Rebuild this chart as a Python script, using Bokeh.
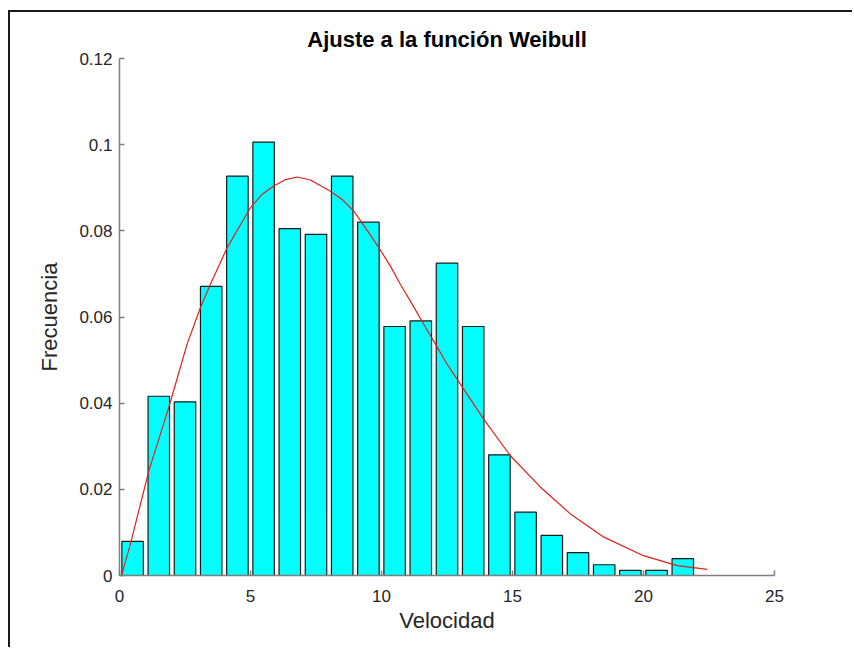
from bokeh.plotting import figure
from bokeh.models import FixedTicker, Range1d, ColumnDataSource
from bokeh.embed import file_html
from bokeh.resources import INLINE

# ---- data ----
velocidad = [0.5, 1.5, 2.5, 3.5, 4.5, 5.5, 6.5, 7.5, 8.5, 9.5, 10.5,
             11.5, 12.5, 13.5, 14.5, 15.5, 16.5, 17.5, 18.5, 19.5, 20.5, 21.5]
frecuencia = [0.0079, 0.0416, 0.0403, 0.0671, 0.0927, 0.1006, 0.0805, 0.0792,
              0.0927, 0.0820, 0.0578, 0.0591, 0.0725, 0.0578, 0.0280, 0.0147,
              0.0093, 0.0053, 0.0025, 0.0012, 0.0012, 0.0039]

weibull_x = [0.1, 0.42, 1.12, 1.88, 2.58, 3.09, 3.47, 4.11, 4.55, 5.0, 5.45,
             5.89, 6.34, 6.78, 7.29, 8.05, 8.5, 8.94, 9.39, 9.9, 10.34, 10.72,
             11.17, 11.61, 12.06, 12.5, 13.1, 13.9, 14.92, 16.07, 17.21, 18.49,
             20.0, 21.29, 22.43]
weibull_y = [0.0005, 0.0074, 0.0243, 0.0390, 0.0537, 0.0622, 0.0676, 0.0761,
             0.0807, 0.0854, 0.0885, 0.0904, 0.0919, 0.0925, 0.0918, 0.0892,
             0.0873, 0.0846, 0.0807, 0.0761, 0.0718, 0.0676, 0.0630, 0.0583,
             0.0537, 0.0491, 0.0436, 0.0363, 0.0278, 0.0205, 0.0143, 0.0089,
             0.0046, 0.0023, 0.0014]

x_ticks = [0, 5, 10, 15, 20, 25]
y_ticks = [0, 0.02, 0.04, 0.06, 0.08, 0.1, 0.12]
y_tick_labels = ["0", "0.02", "0.04", "0.06", "0.08", "0.1", "0.12"]

titulo = "Ajuste a la función Weibull"
etiqueta_x = "Velocidad"
etiqueta_y = "Frecuencia"

FONT = "Liberation Sans"

p = figure(width=844, height=637,
           x_range=Range1d(0, 25), y_range=Range1d(0, 0.12),
           output_backend="svg", toolbar_location=None,
           min_border_left=109, min_border_right=80,
           min_border_top=46, min_border_bottom=74)
p.styles = {"box-shadow": "-2px -2px 0px 0px #1a1a1a",
            "margin-left": "10px", "margin-top": "12px"}

p.background_fill_color = "white"
p.border_fill_color = "white"
p.outline_line_color = None
p.xgrid.grid_line_color = None
p.ygrid.grid_line_color = None

bars = ColumnDataSource(dict(x=velocidad, top=frecuencia))
p.vbar(x="x", top="top", bottom=0, width=0.82, source=bars,
       fill_color="#00FFFF", line_color="#1a1a1a", line_width=1.2)

curve = ColumnDataSource(dict(x=weibull_x, y=weibull_y))
p.line(x="x", y="y", source=curve, line_color="#e0201b", line_width=1.2,
       line_join="round")

# title
p.title.text = titulo
p.title.align = "center"
p.title.text_font = FONT
p.title.text_font_size = "22px"
p.title.text_font_style = "bold"
p.title.text_color = "#000000"
p.title.standoff = 14

axis_color = "#7f7f7f"
label_color = "#262626"

xa = p.xaxis[0]
xa.ticker = FixedTicker(ticks=x_ticks)
xa.major_label_overrides = {t: str(t) for t in x_ticks}
xa.axis_label = etiqueta_x

ya = p.yaxis[0]
ya.ticker = FixedTicker(ticks=y_ticks)
ya.major_label_overrides = dict(zip(y_ticks, y_tick_labels))
ya.axis_label = etiqueta_y

for ax in (xa, ya):
    ax.axis_line_color = axis_color
    ax.axis_line_width = 1.5
    ax.major_tick_line_color = axis_color
    ax.major_tick_line_width = 1.5
    ax.major_tick_in = 5
    ax.major_tick_out = 0
    ax.minor_tick_line_color = None
    ax.major_label_text_font = FONT
    ax.major_label_text_font_size = "17px"
    ax.major_label_text_color = label_color
    ax.axis_label_text_font = FONT
    ax.axis_label_text_font_size = "22px"
    ax.axis_label_text_font_style = "normal"
    ax.axis_label_text_color = label_color

xa.major_label_standoff = 14
xa.axis_label_standoff = 3
ya.major_label_standoff = 7
ya.axis_label_standoff = 14

open("out.html", "w").write(file_html(p, INLINE))
